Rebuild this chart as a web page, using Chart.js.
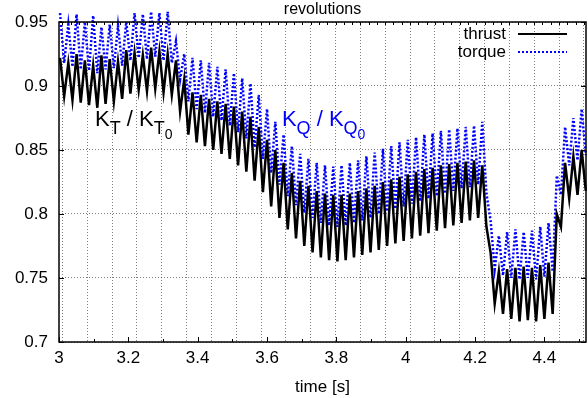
<!DOCTYPE html>
<html lang="en">
<head>
  <meta charset="UTF-8" />
  <title>K_T / K_Q over time</title>
  <script src="https://cdn.jsdelivr.net/npm/chart.js"></script>
  <style>
    html, body { margin: 0; padding: 0; background: #fff; }
    #wrap { width: 588px; height: 398px; }
  </style>
</head>
<body>
  <div id="wrap"><canvas id="chart" width="588" height="398"></canvas></div>

  <script>
    // blade passing: one peak + one trough per cycle, 3 cycles per revolution
    const startTime = 3.003;
    const cycleTime = 0.02388;
    const revStart = 3.0098;
    const revTime = 0.07162;

    // thrust K_T/K_T0 : peak and trough of every cycle
    const thrustHi = [
      0.922, 0.918, 0.925, 0.920, 0.916, 0.924, 0.921, 0.919, 0.928, 0.926,
      0.924, 0.930, 0.927, 0.925, 0.920, 0.905, 0.895, 0.893, 0.890, 0.888,
      0.886, 0.884, 0.880, 0.876, 0.868, 0.858, 0.850, 0.840, 0.832, 0.826,
      0.822, 0.818, 0.816, 0.815, 0.815, 0.816, 0.818, 0.820, 0.822, 0.825,
      0.827, 0.829, 0.831, 0.833, 0.835, 0.836, 0.838, 0.839, 0.840, 0.841,
      0.842, 0.838, 0.770, 0.755, 0.757, 0.758, 0.759, 0.758, 0.760, 0.762,
      0.800, 0.840, 0.845, 0.850
    ];
    const thrustLo = [
      0.892, 0.889, 0.887, 0.885, 0.883, 0.886, 0.888, 0.890, 0.894, 0.897,
      0.896, 0.898, 0.895, 0.893, 0.880, 0.862, 0.856, 0.853, 0.850, 0.847,
      0.843, 0.838, 0.833, 0.826, 0.817, 0.806, 0.797, 0.788, 0.781, 0.775,
      0.770, 0.766, 0.764, 0.763, 0.764, 0.766, 0.768, 0.770, 0.772, 0.775,
      0.777, 0.779, 0.781, 0.783, 0.785, 0.787, 0.789, 0.791, 0.793, 0.795,
      0.797, 0.790, 0.730, 0.722, 0.718, 0.716, 0.717, 0.716, 0.718, 0.722,
      0.790, 0.812, 0.815, 0.818
    ];

    // torque K_Q/K_Q0
    const torqueHi = [
      0.957, 0.948, 0.956, 0.950, 0.955, 0.946, 0.948, 0.947, 0.950, 0.957,
      0.956, 0.958, 0.957, 0.958, 0.935, 0.925, 0.922, 0.920, 0.918, 0.915,
      0.913, 0.910, 0.906, 0.902, 0.893, 0.882, 0.872, 0.862, 0.853, 0.847,
      0.843, 0.840, 0.838, 0.837, 0.838, 0.840, 0.842, 0.845, 0.848, 0.851,
      0.853, 0.856, 0.858, 0.860, 0.862, 0.863, 0.865, 0.866, 0.867, 0.868,
      0.869, 0.872, 0.795, 0.783, 0.786, 0.788, 0.786, 0.787, 0.790, 0.793,
      0.830, 0.868, 0.875, 0.882
    ];
    const torqueLo = [
      0.918, 0.915, 0.913, 0.912, 0.910, 0.913, 0.914, 0.916, 0.920, 0.922,
      0.921, 0.923, 0.920, 0.918, 0.905, 0.888, 0.882, 0.879, 0.876, 0.873,
      0.869, 0.864, 0.859, 0.852, 0.843, 0.832, 0.823, 0.814, 0.807, 0.801,
      0.797, 0.793, 0.791, 0.790, 0.791, 0.793, 0.795, 0.797, 0.800, 0.802,
      0.804, 0.806, 0.808, 0.810, 0.812, 0.814, 0.816, 0.818, 0.820, 0.821,
      0.823, 0.816, 0.757, 0.752, 0.750, 0.749, 0.750, 0.749, 0.751, 0.755,
      0.815, 0.838, 0.842, 0.846
    ];

    const xLabels = ["3", "3.2", "3.4", "3.6", "3.8", "4", "4.2", "4.4"];
    const yLabels = ["0.7", "0.75", "0.8", "0.85", "0.9", "0.95"];

    const FONT = "'Liberation Sans', Arial, sans-serif";
    const GRID = "rgba(0,0,0,0.5)";

    function zigzag(hi, lo) {
      const pts = [];
      hi.forEach((v, i) => {
        pts.push({ x: startTime + i * cycleTime, y: v });
        pts.push({ x: startTime + (i + 0.5) * cycleTime, y: lo[i] });
      });
      return pts;
    }

    // gnuplot style frame: border, inward ticks, legend and labels
    const framePlugin = {
      id: "frame",
      afterDraw(chart) {
        const { ctx, chartArea: a, scales } = chart;
        const x = scales.x, y = scales.y;
        ctx.save();
        ctx.strokeStyle = "#000";
        ctx.lineWidth = 1;
        ctx.beginPath();
        // bottom ticks
        for (let v = 3; v <= 4.52 + 1e-9; v += 0.1) {
          const px = Math.round(x.getPixelForValue(v)) + 0.5;
          const major = Math.round(v * 10) % 2 === 0;
          const len = major ? 5 : 3;
          ctx.moveTo(px, a.bottom); ctx.lineTo(px, a.bottom - len);
        }
        // top ticks (revolutions)
        for (let v = revStart; v <= 4.52; v += revTime / 3) {
          const px = Math.round(x.getPixelForValue(v)) + 0.5;
          ctx.moveTo(px, a.top); ctx.lineTo(px, a.top + 3);
        }
        // left / right ticks
        yLabels.forEach(l => {
          const py = Math.round(y.getPixelForValue(parseFloat(l))) + 0.5;
          ctx.moveTo(a.left, py); ctx.lineTo(a.left + 5, py);
          ctx.moveTo(a.right, py); ctx.lineTo(a.right - 5, py);
        });
        ctx.stroke();

        ctx.lineWidth = 1.5;
        ctx.strokeRect(a.left, a.top, a.right - a.left, a.bottom - a.top);

        // revolutions caption
        ctx.font = "16px " + FONT;
        ctx.fillStyle = "#000";
        ctx.textAlign = "center";
        ctx.textBaseline = "middle";
        ctx.fillText("revolutions", (a.left + a.right) / 2, 10);

        // legend
        ctx.font = "17px " + FONT;
        ctx.textAlign = "right";
        ctx.fillText("thrust", 506, 34);
        ctx.fillText("torque", 506, 52);
        ctx.lineWidth = 2;
        ctx.beginPath(); ctx.moveTo(518, 34); ctx.lineTo(567, 34); ctx.stroke();
        ctx.strokeStyle = "#0000ff";
        ctx.setLineDash([2, 2]);
        ctx.beginPath(); ctx.moveTo(518, 52); ctx.lineTo(567, 52); ctx.stroke();
        ctx.setLineDash([]);

        // K_T / K_T0 and K_Q / K_Q0
        function label(sub, subsub, px, py, color) {
          ctx.fillStyle = color;
          ctx.textAlign = "left";
          ctx.textBaseline = "alphabetic";
          let cx = px;
          ctx.font = "22px " + FONT;
          ctx.fillText("K", cx, py); cx += ctx.measureText("K").width;
          ctx.font = "18px " + FONT;
          ctx.fillText(sub, cx, py + 8); cx += ctx.measureText(sub).width;
          ctx.font = "22px " + FONT;
          ctx.fillText(" / K", cx, py); cx += ctx.measureText(" / K").width;
          ctx.font = "18px " + FONT;
          ctx.fillText(sub, cx, py + 8); cx += ctx.measureText(sub).width;
          ctx.font = "14px " + FONT;
          ctx.fillText(subsub, cx, py + 13);
        }
        label("T", "0", x.getPixelForValue(3.104), y.getPixelForValue(0.8690), "#000");
        label("Q", "0", x.getPixelForValue(3.643), y.getPixelForValue(0.8690), "#0000ff");
        ctx.restore();
      }
    };

    new Chart(document.getElementById("chart"), {
      type: "line",
      data: {
        datasets: [
          {
            label: "thrust",
            data: zigzag(thrustHi, thrustLo),
            borderColor: "#000",
            borderWidth: 2.5,
            pointRadius: 0,
            tension: 0,
            clip: false
          },
          {
            label: "torque",
            data: zigzag(torqueHi, torqueLo),
            borderColor: "#0000ff",
            borderWidth: 2.5,
            borderDash: [2, 2],
            pointRadius: 0,
            tension: 0,
            clip: false
          }
        ]
      },
      options: {
        responsive: false,
        animation: false,
        layout: { padding: { top: 22, right: 2, left: 0, bottom: 0 } },
        plugins: {
          legend: { display: false },
          tooltip: { enabled: false }
        },
        scales: {
          x: {
            type: "linear",
            min: 3,
            max: 4.52,
            afterFit: s => { s.height = 56; },
            afterBuildTicks: s => {
              s.ticks = xLabels.map(l => ({ value: parseFloat(l) }));
            },
            ticks: {
              callback: v => xLabels.find(l => Math.abs(parseFloat(l) - v) < 1e-6) || "",
              color: "#000",
              font: { family: FONT, size: 17 },
              padding: 6,
              maxRotation: 0,
              autoSkip: false
            },
            grid: { display: false, drawTicks: false },
            border: { display: false },
            title: {
              display: true,
              text: "time [s]",
              color: "#000",
              font: { family: FONT, size: 17 },
              padding: { top: 1, bottom: 0 }
            }
          },
          x2: {
            type: "linear",
            position: "top",
            min: 3,
            max: 4.52,
            afterFit: s => { s.height = 0; },
            afterBuildTicks: s => {
              const t = [];
              for (let v = revStart; v <= 4.52; v += revTime) t.push({ value: v });
              s.ticks = t;
            },
            ticks: { display: false },
            grid: { drawTicks: false, color: GRID, lineWidth: 1 },
            border: { display: false, dash: [1, 2] }
          },
          y: {
            min: 0.7,
            max: 0.95,
            afterFit: s => { s.width = 59; },
            afterBuildTicks: s => {
              s.ticks = yLabels.map(l => ({ value: parseFloat(l) }));
            },
            ticks: {
              callback: v => yLabels.find(l => Math.abs(parseFloat(l) - v) < 1e-6) || "",
              color: "#000",
              font: { family: FONT, size: 17 },
              padding: 11
            },
            grid: { drawTicks: false, color: GRID, lineWidth: 1 },
            border: { display: false, dash: [1, 2] }
          }
        }
      },
      plugins: [framePlugin]
    });
  </script>
</body>
</html>
